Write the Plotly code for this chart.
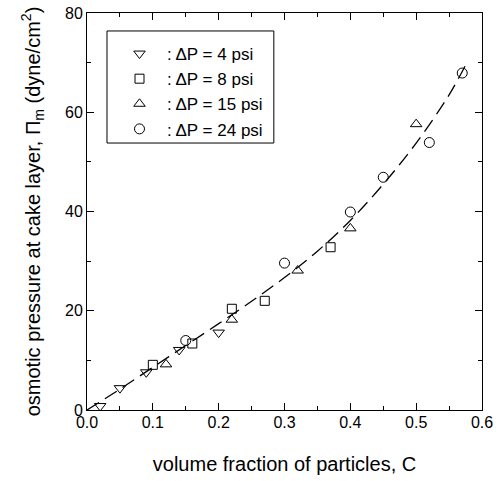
import plotly.graph_objects as go

# 4 psi (inverted triangles)
x4 = [0.02, 0.05, 0.09, 0.14, 0.20]
y4 = [0.8, 4.4, 7.6, 12.1, 15.6]
# 8 psi (squares)
x8 = [0.10, 0.16, 0.22, 0.27, 0.37]
y8 = [9.1, 13.4, 20.4, 22.0, 32.8]
# 15 psi (triangles)
x15 = [0.12, 0.22, 0.32, 0.40, 0.50]
y15 = [9.2, 18.2, 28.1, 36.6, 57.6]
# 24 psi (circles)
x24 = [0.15, 0.30, 0.40, 0.45, 0.52, 0.57]
y24 = [14.0, 29.6, 39.9, 46.9, 53.9, 67.9]
# fitted curve
xfit = [0.0, 0.05, 0.10, 0.15, 0.20, 0.25, 0.30, 0.35, 0.40, 0.45, 0.50, 0.55, 0.575]
yfit = [0.0, 4.2, 8.6, 13.0, 17.4, 21.9, 26.7, 32.0, 38.2, 45.5, 53.8, 63.5, 69.5]

font = "Liberation Sans, Arial, sans-serif"

fig = go.Figure()
fig.add_trace(go.Scatter(x=xfit, y=yfit, mode="lines",
                         line=dict(color="black", width=1.3, dash="14px,7px", shape="spline"),
                         showlegend=False, hoverinfo="skip"))
series = [
    (x4, y4, "triangle-down-open", ": ΔP = 4 psi", 10),
    (x8, y8, "square-open", ": ΔP = 8 psi", 9),
    (x15, y15, "triangle-up-open", ": ΔP = 15 psi", 10),
    (x24, y24, "circle-open", ": ΔP = 24 psi", 10),
]
for xs, ys, sym, name, sz in series:
    fig.add_trace(go.Scatter(x=xs, y=ys, mode="markers", name=name,
                             marker=dict(symbol=sym, size=sz, color="black", line=dict(width=1, color="black"))))

axis_common = dict(showline=True, linecolor="black", linewidth=1, mirror="allticks", ticks="inside",
                   ticklen=7, tickcolor="black", showgrid=False, zeroline=False, automargin=False,
                   tickfont=dict(family=font, size=16, color="black"),
                   minor=dict(ticks="inside", ticklen=4, tickcolor="black"))
fig.update_xaxes(range=[0, 0.6], dtick=0.1, tickformat=".1f", minor_dtick=0.05, ticklabelstandoff=-2,
                 title=dict(text="volume fraction of particles, C", font=dict(family=font, size=20, color="black"), standoff=26),
                 **axis_common)
fig.update_yaxes(range=[0, 80], dtick=20, minor_dtick=10,
                 title=dict(text="osmotic pressure at cake layer, Π<sub>m</sub> (dyne/cm<sup>2</sup>)",
                            font=dict(family=font, size=20, color="black"), standoff=19),
                 **axis_common)
# legend frame
fig.add_shape(type="rect", xref="paper", yref="paper", x0=0.0506, x1=0.473, y0=0.6725, y1=0.9547,
              line=dict(color="black", width=1), fillcolor="rgba(0,0,0,0)", layer="above")
fig.update_layout(
    width=502, height=481,
    margin=dict(l=87, r=20, t=13, b=71),
    plot_bgcolor="white", paper_bgcolor="white",
    legend=dict(x=0.0633, y=0.942, xanchor="left", yanchor="top", borderwidth=0,
                bgcolor="rgba(0,0,0,0)", font=dict(family=font, size=17, color="black"),
                itemwidth=45, tracegroupgap=0),
    showlegend=True,
)
fig.write_html("out.html", config={"displayModeBar": False},
               post_script="document.body.style.margin='0px';")
